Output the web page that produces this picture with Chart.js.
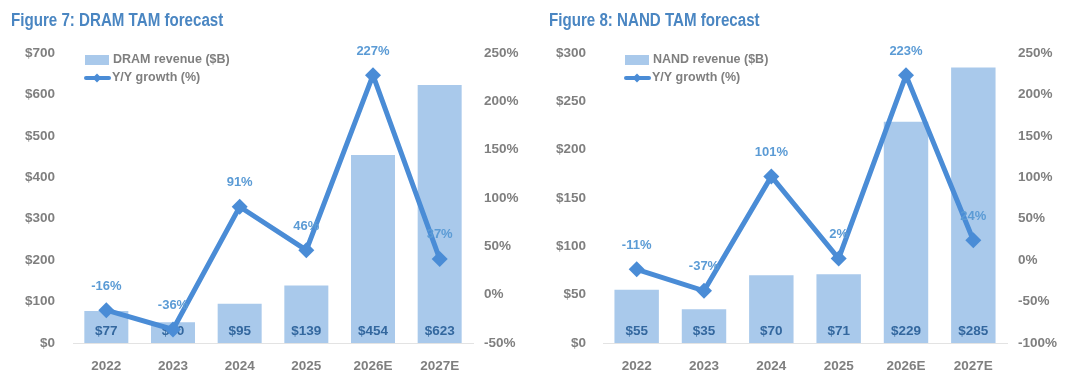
<!DOCTYPE html>
<html>
<head>
<meta charset="utf-8">
<script src="https://cdn.jsdelivr.net/npm/chart.js@4.4.1/dist/chart.umd.min.js"></script>
<style>
  html, body { margin:0; padding:0; background:#ffffff; }
  #wrap { position:relative; width:1080px; height:377px; overflow:hidden; background:#fff; }
  .title { position:absolute; top:10px; font-family:'Liberation Sans',Arial,sans-serif; font-weight:bold; font-size:18px; color:#4a86c2; white-space:nowrap; transform:scaleX(0.84); transform-origin:0 50%; }
  .panel { position:absolute; top:0; width:540px; height:377px; }
</style>
</head>
<body>
<div id="wrap">
  <div class="panel" style="left:0"><canvas id="c1" width="540" height="377"></canvas></div>
  <div class="panel" style="left:540px"><canvas id="c2" width="540" height="377"></canvas></div>
  <div class="title" style="left:11px">Figure 7: DRAM TAM forecast</div>
  <div class="title" style="left:549px">Figure 8: NAND TAM forecast</div>
</div>
<script>
// ---- data ----
const categories = ['2022', '2023', '2024', '2025', '2026E', '2027E'];
const dramRevenue = [77, 50, 95, 139, 454, 623];
const dramGrowth = [-16, -36, 91, 46, 227, 37];
const nandRevenue = [55, 35, 70, 71, 229, 285];
const nandGrowth = [-11, -37, 101, 2, 223, 24];
const dramRevenueAxis = [0, 700, 100];   // min, max, step ($B)
const dramGrowthAxis = [-50, 250, 50];   // min, max, step (%)
const nandRevenueAxis = [0, 300, 50];
const nandGrowthAxis = [-100, 250, 50];
const dramLegend = ['DRAM revenue ($B)', 'Y/Y growth (%)'];
const nandLegend = ['NAND revenue ($B)', 'Y/Y growth (%)'];

// ---- styles ----
const BAR_COLOR = '#a9c9eb';
const LINE_COLOR = '#4a8cd6';
const TICK_COLOR = '#7f7f7f';
const BAR_LABEL_COLOR = '#33679e';
const LINE_LABEL_COLOR = '#5b9bd5';
const FONT = "'Liberation Sans', Arial, sans-serif";

Chart.defaults.font.family = FONT;
Chart.defaults.devicePixelRatio = 1;

function makeChart(id, rev, growth, revAxis, grAxis, legendTexts, geom) {
  const labelPlugin = {
    id: 'labels' + id,
    afterDatasetDraw(chart, args) {
      if (args.index !== 0) return;
      const ctx = chart.ctx;
      const meta = chart.getDatasetMeta(0);
      ctx.save();
      ctx.font = 'bold 13.5px ' + FONT;
      ctx.fillStyle = BAR_LABEL_COLOR;
      ctx.textAlign = 'center';
      ctx.textBaseline = 'middle';
      meta.data.forEach((el, i) => {
        ctx.fillText('$' + rev[i], el.x, chart.chartArea.bottom - 12);
      });
      ctx.restore();
    },
    afterDatasetsDraw(chart) {
      const ctx = chart.ctx;
      const meta = chart.getDatasetMeta(1);
      ctx.save();
      ctx.font = 'bold 13px ' + FONT;
      ctx.fillStyle = LINE_LABEL_COLOR;
      ctx.textAlign = 'center';
      ctx.textBaseline = 'middle';
      meta.data.forEach((el, i) => {
        ctx.fillText(growth[i] + '%', el.x, el.y - 24);
      });
      // legend
      const lx = 85, ty1 = 60, ty2 = 78;
      ctx.fillStyle = BAR_COLOR;
      ctx.fillRect(lx, 55, 24, 10);
      ctx.strokeStyle = LINE_COLOR;
      ctx.lineWidth = 4;
      ctx.lineCap = 'round';
      ctx.beginPath();
      ctx.moveTo(lx + 1, ty2);
      ctx.lineTo(lx + 24, ty2);
      ctx.stroke();
      ctx.fillStyle = LINE_COLOR;
      ctx.beginPath();
      ctx.moveTo(lx + 12, ty2 - 4.5);
      ctx.lineTo(lx + 16.5, ty2);
      ctx.lineTo(lx + 12, ty2 + 4.5);
      ctx.lineTo(lx + 7.5, ty2);
      ctx.closePath();
      ctx.fill();
      ctx.font = 'bold 12.5px ' + FONT;
      ctx.fillStyle = TICK_COLOR;
      ctx.textAlign = 'left';
      ctx.fillText(legendTexts[0], lx + 28, ty1);
      ctx.fillText(legendTexts[1], lx + 27, ty2);
      ctx.restore();
    }
  };

  const tickFont = { size: 13.5, weight: 'bold', family: FONT };

  return new Chart(document.getElementById(id), {
    data: {
      labels: categories,
      datasets: [
        {
          type: 'bar',
          label: legendTexts[0],
          data: rev,
          yAxisID: 'y',
          backgroundColor: BAR_COLOR,
          borderWidth: 0,
          barPercentage: 0.66,
          categoryPercentage: 1.0,
          order: 2
        },
        {
          type: 'line',
          label: legendTexts[1],
          data: growth,
          yAxisID: 'y1',
          borderColor: LINE_COLOR,
          backgroundColor: LINE_COLOR,
          borderWidth: 5,
          pointStyle: 'rectRot',
          pointRadius: 8,
          pointBorderWidth: 0,
          tension: 0,
          order: 1
        }
      ]
    },
    options: {
      responsive: false,
      animation: false,
      devicePixelRatio: 1,
      layout: { padding: { top: 53, left: 0, right: 0, bottom: 0 } },
      plugins: { legend: { display: false }, tooltip: { enabled: false }, title: { display: false } },
      scales: {
        x: {
          type: 'category',
          offset: true,
          grid: { display: false, drawTicks: false },
          border: { display: true, color: '#e3e3e3', width: 1 },
          ticks: { font: tickFont, color: TICK_COLOR, padding: 15, maxRotation: 0 },
          afterFit(s) { s.height = 34; }
        },
        y: {
          position: 'left',
          min: revAxis[0], max: revAxis[1],
          grid: { display: false, drawTicks: false },
          border: { display: false },
          ticks: { stepSize: revAxis[2], font: tickFont, color: TICK_COLOR, padding: geom.lpad,
                   callback: v => '$' + v },
          afterFit(s) { s.width = geom.left; }
        },
        y1: {
          position: 'right',
          min: grAxis[0], max: grAxis[1],
          grid: { display: false, drawTicks: false },
          border: { display: false },
          ticks: { stepSize: grAxis[2], font: tickFont, color: TICK_COLOR, padding: geom.rpad,
                   callback: v => v + '%' },
          afterFit(s) { s.width = geom.right; }
        }
      }
    },
    plugins: [labelPlugin]
  });
}

makeChart('c1', dramRevenue, dramGrowth, dramRevenueAxis, dramGrowthAxis, dramLegend,
  { left: 73, right: 67, lpad: 18, rpad: 11 });
makeChart('c2', nandRevenue, nandGrowth, nandRevenueAxis, nandGrowthAxis, nandLegend,
  { left: 63, right: 73, lpad: 17, rpad: 11 });
</script>
</body>
</html>
